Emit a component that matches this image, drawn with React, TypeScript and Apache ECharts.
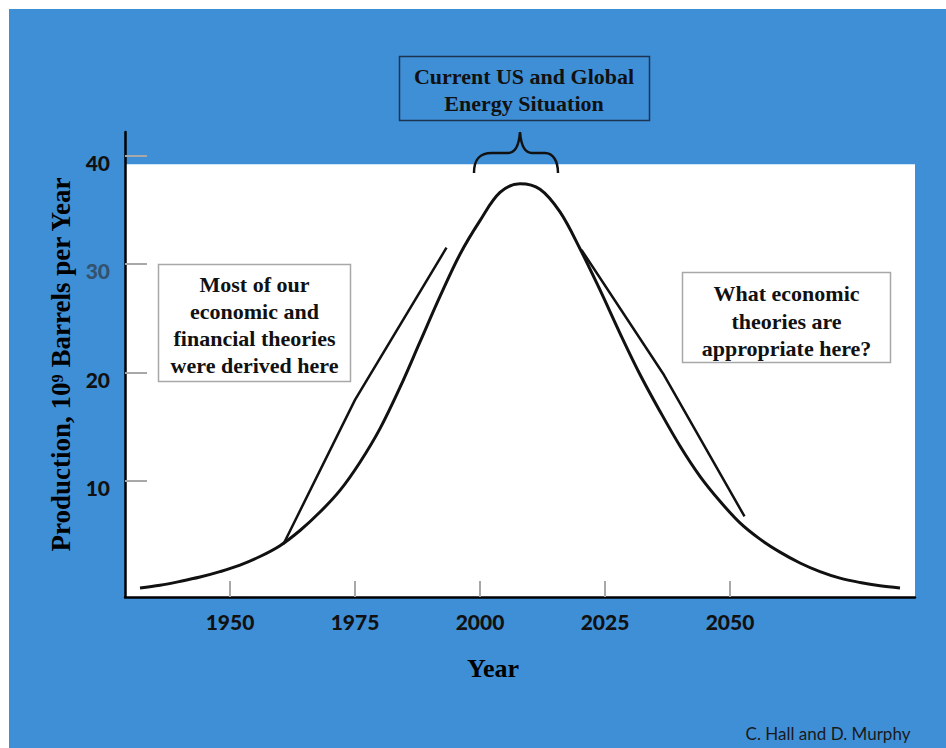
import React, { useEffect, useRef } from "react";
import * as echarts from "echarts";

// ---- data ----
const years = [1932, 1936, 1940, 1944, 1948, 1952, 1956, 1960, 1964, 1968, 1972, 1976, 1980, 1984, 1988, 1992, 1996, 2000, 2004, 2008, 2012, 2016, 2020, 2024, 2028, 2032, 2036, 2040, 2044, 2048, 2052, 2056, 2060, 2064, 2068, 2072, 2076, 2080, 2084];
const production = [0.1, 0.35, 0.7, 1.1, 1.6, 2.2, 3.0, 4.0, 5.4, 7.1, 9.1, 11.7, 14.8, 18.6, 22.8, 27.0, 30.9, 34.0, 36.6, 37.4, 36.9, 34.8, 31.4, 27.6, 23.6, 19.8, 16.4, 13.2, 10.4, 8.1, 6.1, 4.6, 3.4, 2.4, 1.6, 1.0, 0.6, 0.3, 0.1];

const earlyYears = [1960.7, 1975, 1993.3];
const earlyValues = [4.15, 17.45, 31.5];

const lateYears = [2020.3, 2036.8, 2052.9];
const lateValues = [31.3, 19.75, 6.7];

const xTicks = [1950, 1975, 2000, 2025, 2050];
const yTicks = [10, 20, 30, 40];

const X_MIN = 1929;
const X_MAX = 2087;
const Y_MIN = -0.74;
const Y_MAX = 42.18;
const PLOT_TOP = 39.2;

const BRACE_D =
  "M474,173 C474,161 478,153 492,153 L508,153 C515,153 519,145 520,132 C521,145 525,153 532,153 L545,153 C553,153 558,161 558,173";
echarts.graphic.registerShape("brace", echarts.graphic.extendPath(BRACE_D, {}));

const SERIF = '"Liberation Serif", "Times New Roman", serif';
const SANS = 'Lato, "Liberation Sans", sans-serif';

export default function App() {
  const ref = useRef<HTMLDivElement>(null);

  useEffect(() => {
    if (!ref.current) return;
    const chart = echarts.init(ref.current, null, { renderer: "svg" });
    const pairs = (xs: number[], ys: number[]) => xs.map((x, i) => [x, ys[i]]);

    const boxText = (x: number, y: number, text: string, lineHeight: number) => ({
      type: "text",
      x,
      y,
      z: 21,
      style: {
        text,
        fontFamily: SERIF,
        fontWeight: "bold",
        fontSize: 22,
        lineHeight,
        fill: "#111",
        align: "center",
        verticalAlign: "middle",
      },
    });

    chart.setOption({
      animation: false,
      backgroundColor: "transparent",
      grid: { left: 125, right: 31, top: 132, bottom: 151 },
      xAxis: {
        type: "value",
        min: X_MIN,
        max: X_MAX,
        z: 10,
        axisLine: { show: true, onZero: false, lineStyle: { color: "#000", width: 2.5 } },
        axisTick: { show: true, inside: true, length: 16, customValues: xTicks, lineStyle: { color: "#a8a8a8", width: 2 } },
        axisLabel: {
          customValues: xTicks,
          formatter: (v: number) => String(Math.round(v)),
          margin: 14,
          color: "#111",
          fontFamily: SANS,
          fontWeight: 900,
          fontSize: 21,
        },
        splitLine: { show: false },
        name: "Year",
        nameLocation: "middle",
        nameGap: 58,
        nameTextStyle: { fontFamily: SERIF, fontWeight: "bold", fontSize: 26, color: "#000", padding: [0, 54, 0, 0] },
      },
      yAxis: {
        type: "value",
        min: Y_MIN,
        max: Y_MAX,
        z: 10,
        axisLine: { show: true, lineStyle: { color: "#000", width: 2.5 } },
        axisTick: { show: true, inside: true, length: 22, customValues: yTicks, lineStyle: { color: "#a8a8a8", width: 2 } },
        axisLabel: {
          customValues: yTicks,
          margin: 15,
          padding: [14, 0, 0, 0],
          formatter: (v: number) => {
            const r = Math.round(v);
            return r === 30 ? `{g|${r}}` : `{k|${r}}`;
          },
          rich: {
            k: { color: "#111", fontFamily: SANS, fontWeight: 900, fontSize: 21 },
            g: { color: "#34516e", fontFamily: SANS, fontWeight: 900, fontSize: 21 },
          },
        },
        splitLine: { show: false },
        name: "Production, 10⁹ Barrels per Year",
        nameLocation: "middle",
        nameGap: 50,
        nameTextStyle: { fontFamily: SERIF, fontWeight: "bold", fontSize: 27, color: "#000" },
      },
      series: [
        {
          type: "line",
          name: "production",
          data: pairs(years, production),
          smooth: 0.35,
          symbol: "none",
          z: 3,
          lineStyle: { color: "#111", width: 3 },
          markArea: {
            silent: true,
            itemStyle: { color: "#ffffff" },
            data: [[{ yAxis: Y_MIN }, { yAxis: PLOT_TOP }]],
          },
        },
        {
          type: "line",
          name: "early",
          data: pairs(earlyYears, earlyValues),
          symbol: "none",
          z: 4,
          lineStyle: { color: "#111", width: 2.5 },
        },
        {
          type: "line",
          name: "late",
          data: pairs(lateYears, lateValues),
          symbol: "none",
          z: 4,
          lineStyle: { color: "#111", width: 2.5 },
        },
      ],
      graphic: [
        {
          type: "rect",
          z: 20,
          shape: { x: 399.5, y: 56.5, width: 250, height: 64 },
          style: { fill: "none", stroke: "#1d3550", lineWidth: 1.5 },
        },
        boxText(524, 90, "Current US and Global\nEnergy Situation", 27),
        {
          type: "brace",
          z: 20,
          style: { stroke: "#111", fill: "none", lineWidth: 2.5 },
        },
        {
          type: "rect",
          z: 20,
          shape: { x: 158.5, y: 264.5, width: 192, height: 117 },
          style: { fill: "#fff", stroke: "#a8a8a8", lineWidth: 1.5 },
        },
        boxText(254.5, 325, "Most of our\neconomic and\nfinancial theories\nwere derived here", 26.7),
        {
          type: "rect",
          z: 20,
          shape: { x: 682.5, y: 272.5, width: 208, height: 90 },
          style: { fill: "#fff", stroke: "#a8a8a8", lineWidth: 1.5 },
        },
        boxText(786.5, 321, "What economic\ntheories are\nappropriate here?", 27.5),
        {
          type: "text",
          x: 828,
          y: 733,
          z: 20,
          style: {
            text: "C. Hall and D. Murphy",
            fontFamily: SANS,
            fontSize: 17,
            fill: "#1a1a1a",
            align: "center",
            verticalAlign: "middle",
          },
        },
      ],
    });

    return () => chart.dispose();
  }, []);

  return (
    <div style={{ position: "absolute", left: 0, top: 0, width: 946, height: 748, background: "#fff", overflow: "hidden" }}>
      <div style={{ position: "absolute", left: 9, top: 9, right: 0, bottom: 0, background: "#3f8fd7" }} />
      <div ref={ref} style={{ position: "absolute", left: 0, top: 0, width: 946, height: 748 }} />
    </div>
  );
}
